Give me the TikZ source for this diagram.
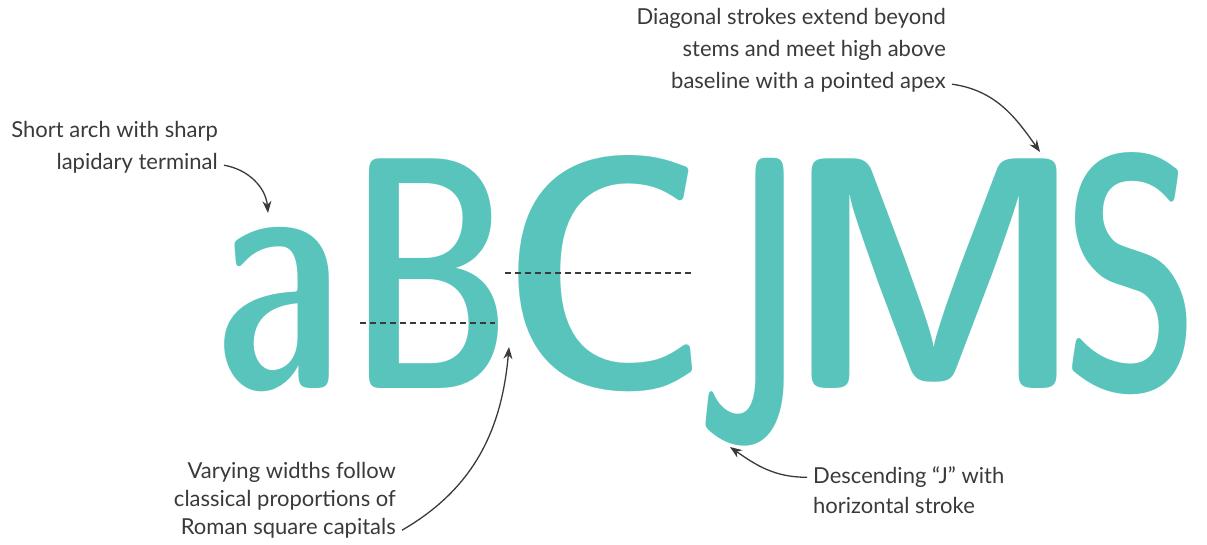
\documentclass[tikz,border=0pt]{standalone}
\usepackage{fontspec}
\setmainfont{Lato}
\newfontfamily\glyphfont{lmsansdemicond10-regular}[Extension=.otf]
\usetikzlibrary{arrows.meta,positioning}
\definecolor{stone}{RGB}{88,196,187}
\definecolor{ink}{RGB}{58,58,58}
\tikzset{
  letter/.style={inner sep=0pt, anchor=base, text=stone, font=\glyphfont\fontsize{331}{331}\selectfont},
  note/.style={inner sep=0pt, text=ink, font=\fontsize{22}{32}\selectfont},
  callout/.style={draw=ink, line width=1.3pt, -{Stealth[length=12pt,width=9pt]}},
  guide/.style={draw=ink, line width=1.2pt, dash pattern=on 6pt off 4pt}
}
\begin{document}
\begin{tikzpicture}[x=1pt,y=1pt]
  \useasboundingbox (0,0) rectangle (1207,544);
  % the specimen letters
  \node[letter] (la) at (278,156) {\scalebox{0.85}[1]{a}};
  \node[letter] (lB) at (430,156) {\scalebox{0.78}[1]{B}};
  \node[letter] (lC) at (605,156) {\scalebox{1.04}[1]{C}};
  \node[letter, anchor=north] (lJ) at (750,386) {\scalebox{0.72}[1.22]{J}};
  \node[letter] (lM) at (935,156) {\scalebox{1.1}[1]{M}};
  \node[letter] (lS) at (1131,156) {\scalebox{0.8}[1]{S}};
  % guide lines
  \coordinate (gB1) at (360,221); \coordinate (gB2) at (495,221);
  \coordinate (gC1) at (505,271); \coordinate (gC2) at (694,271);
  \draw[guide] (gB1) -- (gB2);
  \draw[guide] (gC1) -- (gC2);
  % notes
  \node[note, align=right, anchor=east] (nA) at (218,397) {Short arch with sharp\\lapidary terminal};
  \node[note, align=right, anchor=east] (nM) at (946,494) {Diagonal strokes extend beyond\\stems and meet high above\\baseline with a pointed apex};
  \node[note, align=right, anchor=east, font=\fontsize{22}{28}\selectfont] (nB) at (396,44) {Varying widths follow\\classical proportions of\\Roman square capitals};
  \node[note, align=left, anchor=west, font=\fontsize{22}{30}\selectfont] (nJ) at (813,54) {Descending “J” with\\horizontal stroke};
  \coordinate (tA) at (268,331);
  \coordinate (tM) at (1040,392);
  \coordinate (tB) at (509,197);
  \coordinate (tJ) at (730,97);
  \draw[callout] ([xshift=6pt,yshift=8pt]nA.south east) to[out=-10,in=95] (tA);
  \draw[callout] ([xshift=6pt,yshift=8pt]nM.south east) to[out=-8,in=125] (tM);
  \draw[callout] ([xshift=6pt,yshift=8pt]nB.south east) to[out=30,in=-95] (tB);
  \draw[callout] ([xshift=-6pt,yshift=-11pt]nJ.north west) to[out=180,in=-35] (tJ);
\end{tikzpicture}
\end{document}
